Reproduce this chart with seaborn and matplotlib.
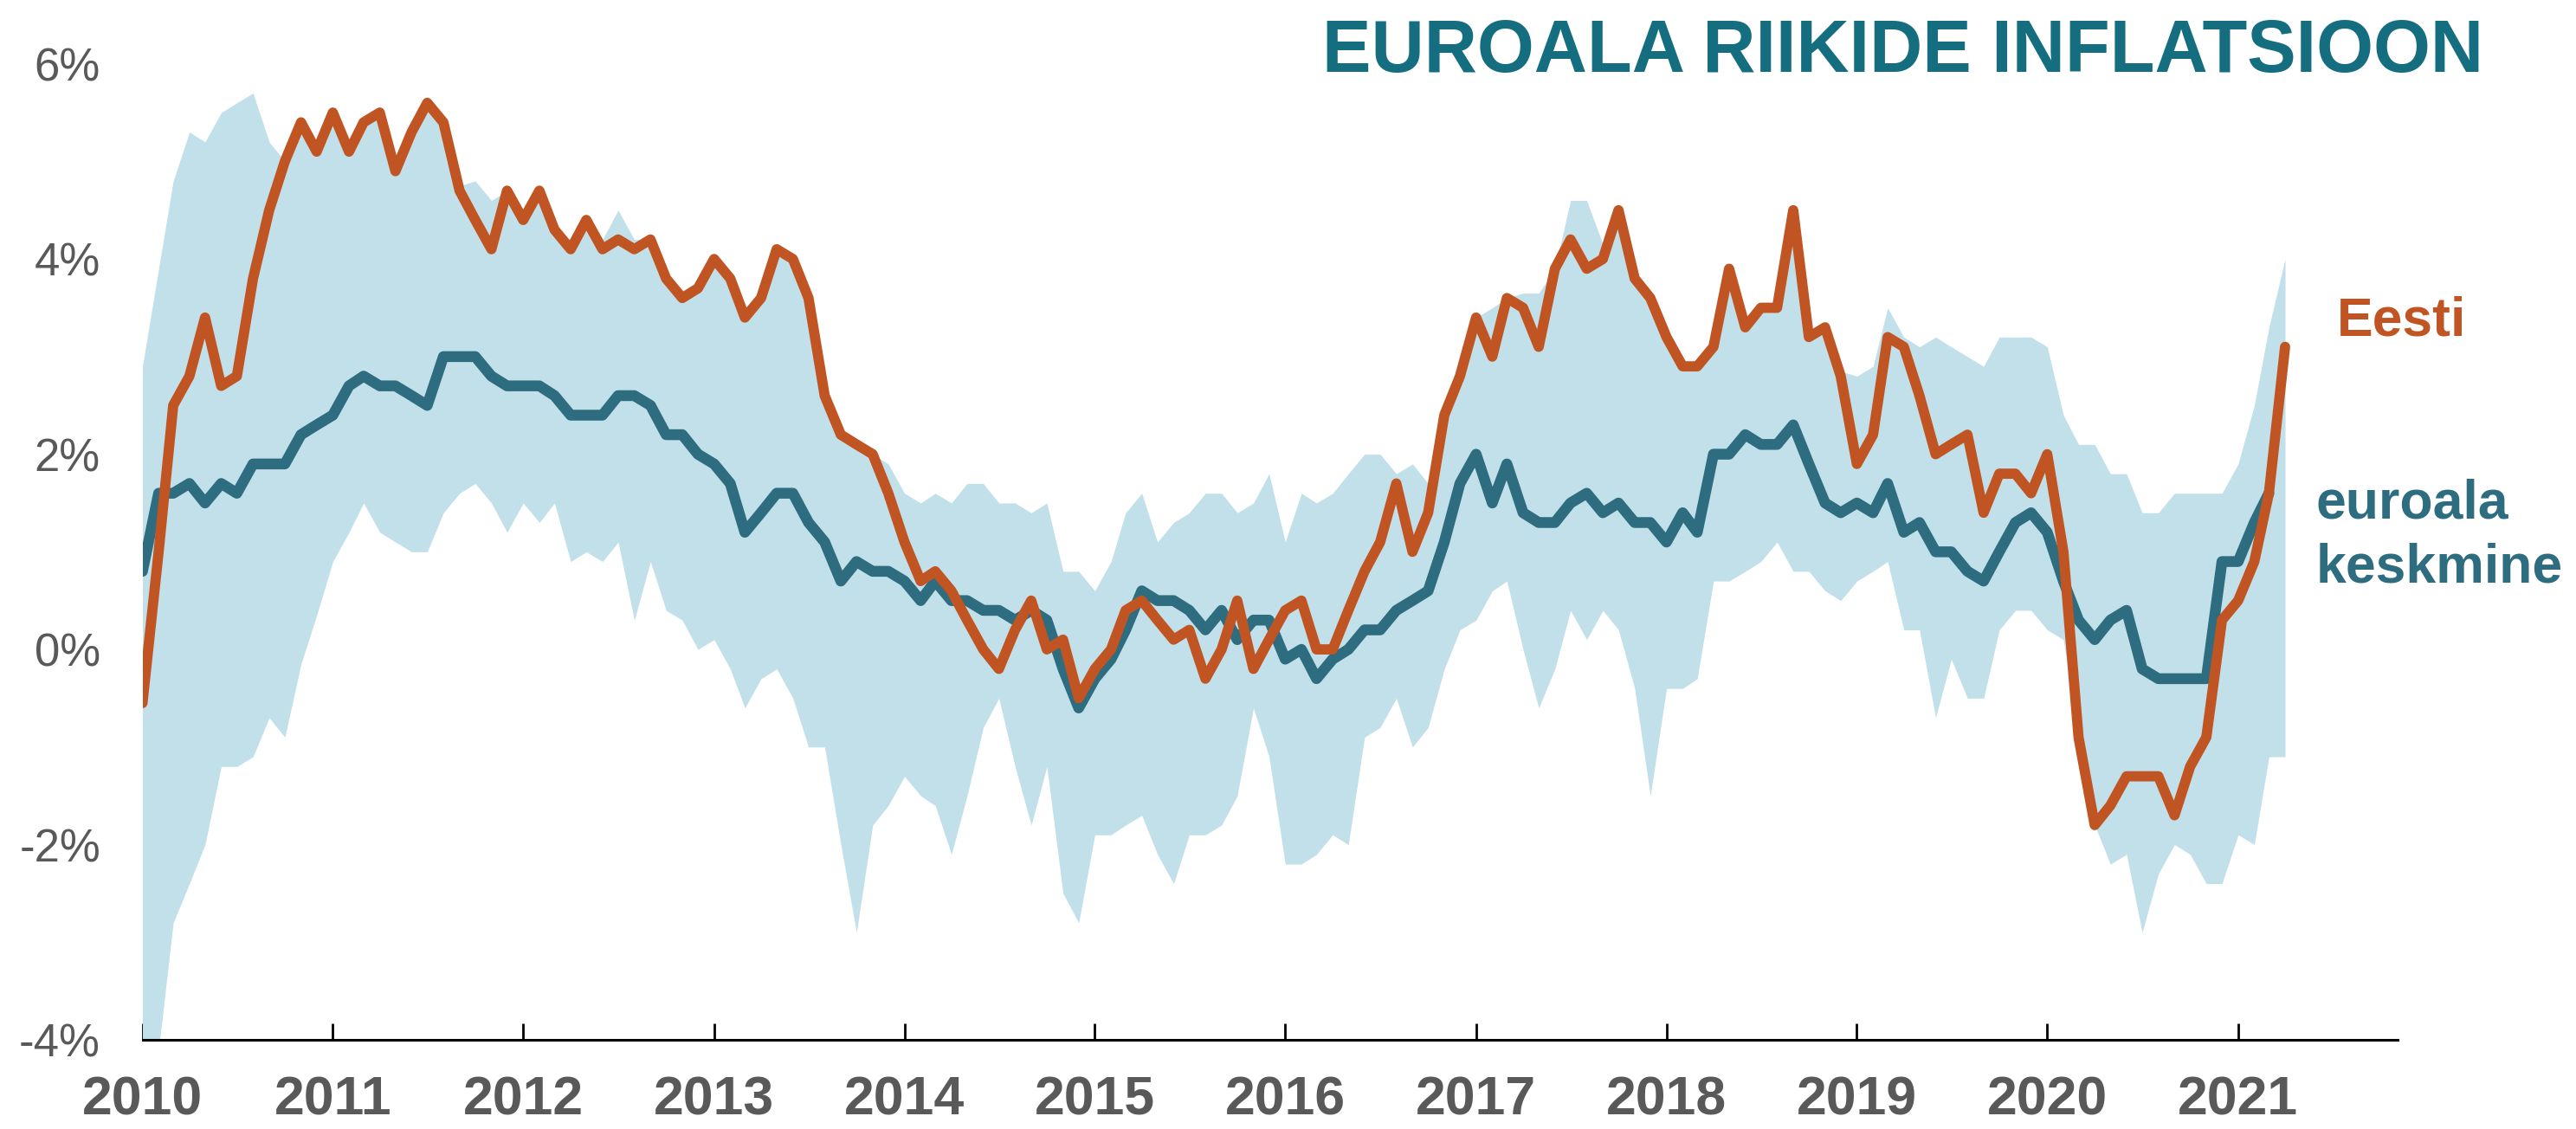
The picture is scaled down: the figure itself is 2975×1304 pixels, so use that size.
import numpy as np
import pandas as pd
import matplotlib
matplotlib.use("Agg")
import matplotlib.pyplot as plt
import seaborn as sns

# Eesti inflatsioon, % (kuu kaupa alates 2010)
eesti = [
    -0.55, 1.0, 2.5, 2.8, 3.4, 2.7, 2.8, 3.8, 4.5, 5.0, 5.4, 5.1,
    5.5, 5.1, 5.4, 5.5, 4.9, 5.3, 5.6, 5.4, 4.7, 4.4, 4.1, 4.7,
    4.4, 4.7, 4.3, 4.1, 4.4, 4.1, 4.2, 4.1, 4.2, 3.8, 3.6, 3.7,
    4.0, 3.8, 3.4, 3.6, 4.1, 4.0, 3.6, 2.6, 2.2, 2.1, 2.0, 1.6,
    1.1, 0.7, 0.8, 0.6, 0.3, 0.0, -0.2, 0.2, 0.5, 0.0, 0.1, -0.5,
    -0.2, 0.0, 0.4, 0.5, 0.3, 0.1, 0.2, -0.3, 0.0, 0.5, -0.2, 0.1,
    0.4, 0.5, 0.0, 0.0, 0.4, 0.8, 1.1, 1.7, 1.0, 1.4, 2.4, 2.8,
    3.4, 3.0, 3.6, 3.5, 3.1, 3.9, 4.2, 3.9, 4.0, 4.5, 3.8, 3.6,
    3.2, 2.9, 2.9, 3.1, 3.9, 3.3, 3.5, 3.5, 4.5, 3.2, 3.3, 2.8,
    1.9, 2.2, 3.2, 3.1, 2.6, 2.0, 2.1, 2.2, 1.4, 1.8, 1.8, 1.6,
    2.0, 1.0, -0.9, -1.8, -1.6, -1.3, -1.3, -1.3, -1.7, -1.2, -0.9, 0.3,
    0.5, 0.9, 1.6, 3.1,
]

# euroala keskmine
euroala = [
    0.8, 1.6, 1.6, 1.7, 1.5, 1.7, 1.6, 1.9, 1.9, 1.9, 2.2, 2.3,
    2.4, 2.7, 2.8, 2.7, 2.7, 2.6, 2.5, 3.0, 3.0, 3.0, 2.8, 2.7,
    2.7, 2.7, 2.6, 2.4, 2.4, 2.4, 2.6, 2.6, 2.5, 2.2, 2.2, 2.0,
    1.9, 1.7, 1.2, 1.4, 1.6, 1.6, 1.3, 1.1, 0.7, 0.9, 0.8, 0.8,
    0.7, 0.5, 0.7, 0.5, 0.5, 0.4, 0.4, 0.3, 0.4, 0.3, -0.2, -0.6,
    -0.3, -0.1, 0.2, 0.6, 0.5, 0.5, 0.4, 0.2, 0.4, 0.1, 0.3, 0.3,
    -0.1, 0.0, -0.3, -0.1, 0.0, 0.2, 0.2, 0.4, 0.5, 0.6, 1.1, 1.7,
    2.0, 1.5, 1.9, 1.4, 1.3, 1.3, 1.5, 1.6, 1.4, 1.5, 1.3, 1.3,
    1.1, 1.4, 1.2, 2.0, 2.0, 2.2, 2.1, 2.1, 2.3, 1.9, 1.5, 1.4,
    1.5, 1.4, 1.7, 1.2, 1.3, 1.0, 1.0, 0.8, 0.7, 1.0, 1.3, 1.4,
    1.2, 0.7, 0.3, 0.1, 0.3, 0.4, -0.2, -0.3, -0.3, -0.3, -0.3, 0.9,
    0.9, 1.3, 1.6,
]

# euroala riikide suurim ja väikseim inflatsioon
riikide_max = [
    2.9, 3.9, 4.8, 5.3, 5.2, 5.5, 5.6, 5.7, 5.2, 5.0, 5.4, 5.1,
    5.5, 5.1, 5.4, 5.5, 4.9, 5.3, 5.6, 5.4, 4.75, 4.8, 4.6, 4.7,
    4.4, 4.7, 4.3, 4.1, 4.4, 4.2, 4.5, 4.2, 4.2, 3.8, 3.6, 3.7,
    4.0, 3.8, 3.4, 3.6, 4.1, 4.0, 3.6, 2.6, 2.2, 2.1, 2.0, 1.9,
    1.6, 1.5, 1.6, 1.5, 1.7, 1.7, 1.5, 1.5, 1.4, 1.5, 0.8, 0.8,
    0.6, 0.9, 1.4, 1.6, 1.1, 1.3, 1.4, 1.6, 1.6, 1.4, 1.5, 1.8,
    1.1, 1.6, 1.5, 1.6, 1.8, 2.0, 2.0, 1.8, 1.9, 1.7, 2.4, 3.0,
    3.4, 3.5, 3.6, 3.65, 3.65, 3.9, 4.6, 4.6, 4.15, 4.5, 3.8, 3.6,
    3.2, 2.95, 2.95, 3.1, 3.9, 3.3, 3.5, 3.5, 4.5, 3.2, 3.3, 2.85,
    2.8, 2.9, 3.5, 3.2, 3.1, 3.2, 3.1, 3.0, 2.9, 3.2, 3.2, 3.2,
    3.1, 2.4, 2.1, 2.1, 1.8, 1.8, 1.4, 1.4, 1.6, 1.6, 1.6, 1.6,
    1.9, 2.5, 3.3, 4.0,
]
riikide_min = [
    -4.3, -4.1, -2.8, -2.4, -2.0, -1.2, -1.2, -1.1, -0.7, -0.9, -0.15, 0.35,
    0.9, 1.2, 1.5, 1.2, 1.1, 1.0, 1.0, 1.4, 1.6, 1.7, 1.5, 1.2,
    1.5, 1.3, 1.5, 0.9, 1.0, 0.9, 1.1, 0.3, 0.9, 0.4, 0.3, 0.0,
    0.1, -0.2, -0.6, -0.3, -0.2, -0.5, -1.0, -1.0, -2.0, -2.9, -1.8, -1.6,
    -1.3, -1.5, -1.6, -2.1, -1.5, -0.8, -0.5, -1.2, -1.8, -1.2, -2.5, -2.8,
    -1.9, -1.9, -1.8, -1.7, -2.1, -2.4, -1.9, -1.9, -1.8, -1.5, -0.6, -1.1,
    -2.2, -2.2, -2.1, -1.9, -2.0, -0.9, -0.8, -0.5, -1.0, -0.8, -0.2, 0.2,
    0.3, 0.6, 0.7, 0.0, -0.6, -0.2, 0.4, 0.1, 0.4, 0.2, -0.4, -1.5,
    -0.4, -0.4, -0.3, 0.7, 0.7, 0.8, 0.9, 1.1, 0.8, 0.8, 0.6, 0.5,
    0.7, 0.8, 0.9, 0.2, 0.2, -0.7, -0.1, -0.5, -0.5, 0.2, 0.4, 0.4,
    0.2, 0.1, -0.9, -1.8, -2.2, -2.1, -2.9, -2.3, -2.0, -2.1, -2.4, -2.4,
    -1.9, -2.0, -1.1, -1.1,
]

aastad = list(range(2010, 2022))
y_ticks = [-4, -2, 0, 2, 4, 6]

ORANZ = "#C05422"
SINI = "#2E6C80"
RIBA = "#C2E0E9"
HALL = "#595959"

kuud = pd.date_range("2010-01-01", periods=len(eesti), freq="MS")
ee_df = pd.DataFrame({"kuu": kuud, "inflatsioon": eesti})
ea_df = pd.DataFrame({"kuu": kuud[:len(euroala)], "inflatsioon": euroala})

sns.set_theme(style="white")
plt.rcParams["font.family"] = ["Liberation Sans", "DejaVu Sans"]

fig = plt.figure(figsize=(29.75, 13.04), dpi=100)
ax = fig.add_axes([0.0553, 0.079, 0.8755, 0.8645])

ax.fill_between(kuud, riikide_min, riikide_max, color=RIBA, linewidth=0, zorder=1)
sns.lineplot(data=ea_df, x="kuu", y="inflatsioon", color=SINI, linewidth=9,
             solid_capstyle="round", solid_joinstyle="round", ax=ax, zorder=2)
sns.lineplot(data=ee_df, x="kuu", y="inflatsioon", color=ORANZ, linewidth=8.5,
             solid_capstyle="round", solid_joinstyle="round", ax=ax, zorder=3)

ax.set_xlabel("")
ax.set_ylabel("")
ax.set_xlim(pd.Timestamp("2010-01-01"), pd.Timestamp("2021-11-03"))
ax.set_ylim(-4, 6)
ax.set_xticks([pd.Timestamp(f"{a}-01-01") for a in aastad])
ax.set_xticklabels([str(a) for a in aastad])
ax.set_yticks(y_ticks)
ax.set_yticklabels([f"{t}%" for t in y_ticks])

ax.tick_params(axis="y", length=0, pad=35, labelsize=38, labelcolor=HALL)
ax.tick_params(axis="x", direction="in", length=13.5, width=2, color="black",
               pad=29, labelsize=45, labelcolor=HALL, bottom=True)
for lbl in ax.get_xticklabels():
    lbl.set_fontweight("bold")

for s in ["left", "right", "top"]:
    ax.spines[s].set_visible(False)
ax.spines["bottom"].set_color("black")
ax.spines["bottom"].set_linewidth(2.2)
ax.grid(False)

fig.text(0.7386, 0.9363, "EUROALA RIIKIDE INFLATSIOON", ha="center", va="baseline",
         fontsize=61, fontweight="bold", color="#146E80")
fig.text(0.9072, 0.7025, "Eesti", ha="left", va="baseline",
         fontsize=45, fontweight="bold", color=ORANZ)
fig.text(0.899, 0.5414, "euroala", ha="left", va="baseline",
         fontsize=45, fontweight="bold", color=SINI)
fig.text(0.899, 0.4839, "keskmine", ha="left", va="baseline",
         fontsize=45, fontweight="bold", color=SINI)

fig.savefig("out.png", dpi=100)
